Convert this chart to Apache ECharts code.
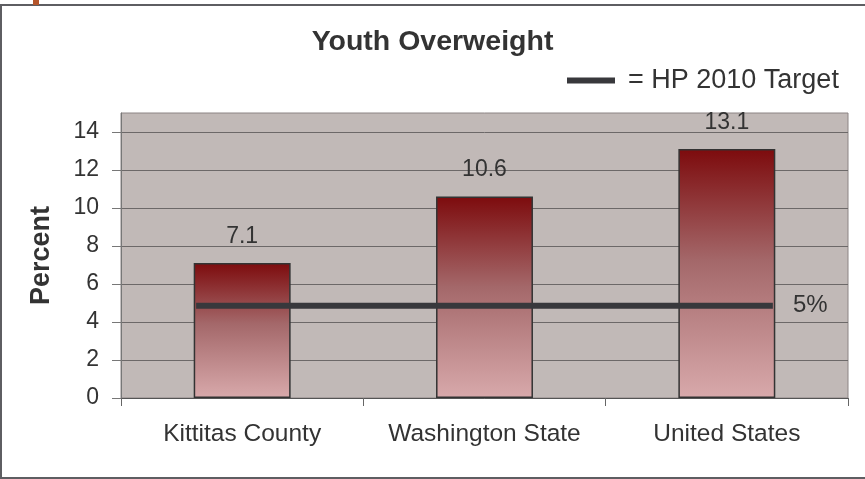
<!DOCTYPE html>
<html><head><meta charset="utf-8">
<script src="https://cdn.jsdelivr.net/npm/echarts@6/dist/echarts.min.js"></script>
<style>html,body{margin:0;padding:0;background:#fff}#c{width:865px;height:479px}</style>
</head><body><div id="c"></div>
<script>
var categories = ['Kittitas County', 'Washington State', 'United States'];
var values = [7.1, 10.6, 13.1];
var targetValue = 4.85;
var targetLabel = '5%';
var targetSpan = [-0.19, 2.19];
var yTicks = [0, 2, 4, 6, 8, 10, 12, 14];

var FONT = '"Liberation Sans", Arial, sans-serif';
var chart = echarts.init(document.getElementById('c'));
chart.setOption({
  animation: false,
  backgroundColor: '#fff',
  graphic: [
    {type: 'rect', shape: {x: 1, y: 5, width: 900, height: 473}, style: {fill: 'none', stroke: '#5e5e62', lineWidth: 2}, z: -1},
    {type: 'rect', shape: {x: 33, y: 0, width: 6, height: 5}, style: {fill: '#b4552b'}}
  ],
  title: {
    text: 'Youth Overweight', left: 'center', top: 23,
    textStyle: {fontFamily: FONT, fontSize: 28.5, fontWeight: 'bold', color: '#333'}
  },
  legend: {
    left: 562, top: 62, icon: 'rect', itemWidth: 48, itemHeight: 6,
    data: [{name: 'HP 2010 Target', itemStyle: {color: '#38383c'}}],
    formatter: function (n) { return '= HP 2010 Target'; },
    textStyle: {fontFamily: FONT, fontSize: 27, color: '#333', padding: [0, 0, 0, 8]}
  },
  grid: {
    left: 121, right: 17, top: 113, bottom: 81, show: true,
    backgroundColor: '#c1b9b7', borderColor: '#8c8484', borderWidth: 1
  },
  xAxis: [
    {
      type: 'category', data: categories,
      axisLine: {lineStyle: {color: '#555', width: 1}},
      axisTick: {show: true, length: 8, lineStyle: {color: '#666'}},
      axisLabel: {interval: 0, fontFamily: FONT, fontSize: 24.5, color: '#333', margin: 24}
    },
    {type: 'value', min: -0.5, max: 2.5, show: false, splitLine: {show: false}, axisLine: {show: false}, axisTick: {show: false}, axisLabel: {show: false}}
  ],
  yAxis: {
    type: 'value', min: 0, max: 15, interval: 2,
    name: 'Percent', nameLocation: 'middle', nameRotate: 90, nameGap: 66,
    nameTextStyle: {fontFamily: FONT, fontSize: 27, fontWeight: 'bold', color: '#333'},
    axisLine: {show: true, onZero: false, lineStyle: {color: '#777'}},
    axisTick: {show: true, length: 9, customValues: yTicks, lineStyle: {color: '#777'}},
    axisLabel: {fontFamily: FONT, fontSize: 23, color: '#333', margin: 22, customValues: yTicks},
    splitLine: {show: true, lineStyle: {color: '#6c6868', width: 1}}
  },
  series: [
    {
      type: 'bar', data: values, barWidth: '40%', xAxisIndex: 0,
      itemStyle: {
        borderColor: '#333', borderWidth: 1.5,
        color: new echarts.graphic.LinearGradient(0, 0, 0, 1, [
          {offset: 0, color: '#7d0b0d'},
          {offset: 0.45, color: '#a4686a'},
          {offset: 1, color: '#d8a9ab'}
        ])
      },
      label: {show: true, position: 'top', distance: 15, fontFamily: FONT, fontSize: 23, color: '#333'}
    },
    {
      name: 'HP 2010 Target', type: 'line', xAxisIndex: 1, yAxisIndex: 0,
      data: [[targetSpan[0], targetValue], [targetSpan[1], targetValue]],
      symbol: 'none', color: '#38383c',
      lineStyle: {color: '#38383c', width: 6, cap: 'butt'},
      endLabel: {show: true, formatter: targetLabel, distance: 20, fontFamily: FONT, fontSize: 24, color: '#333'},
      z: 5
    }
  ]
});
</script></body></html>
